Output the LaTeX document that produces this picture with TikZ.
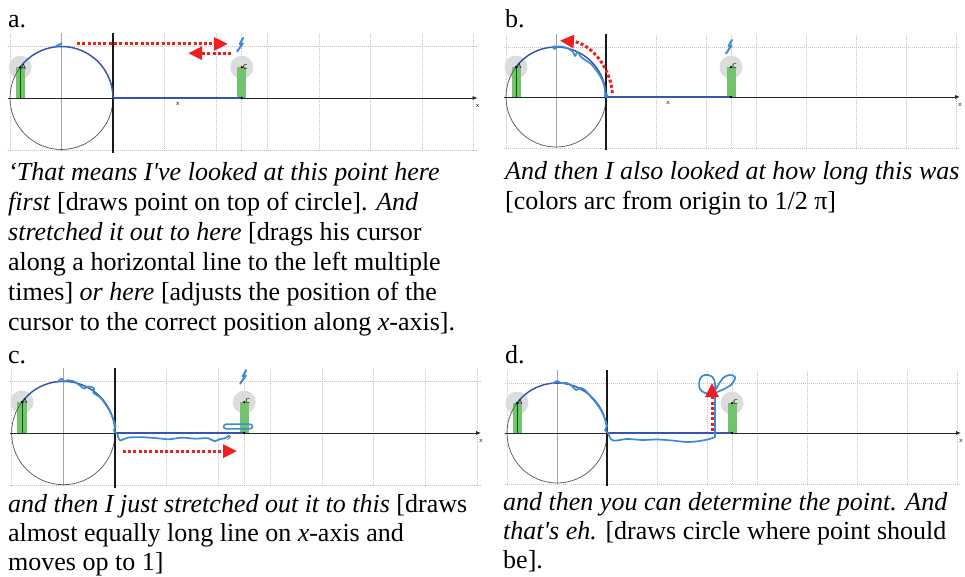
\documentclass[tikz,border=0pt]{standalone}
\usepackage{fontspec}
\setmainfont{Liberation Serif}[Ligatures=TeXOff]
\usetikzlibrary{arrows.meta}

\definecolor{handblue}{RGB}{58,140,215}
\definecolor{arcblue}{RGB}{55,85,175}
\definecolor{barfill}{RGB}{115,195,110}
\definecolor{discgrey}{RGB}{220,220,220}
\definecolor{gridgrey}{RGB}{195,195,195}
\definecolor{circgrey}{RGB}{85,85,85}
\definecolor{redarrow}{RGB}{240,30,30}

\tikzset{
  gridline/.style={gridgrey, line width=0.6pt, dash pattern=on 1pt off 1pt},
  centreline/.style={black!35, line width=0.7pt},
  axisline/.style={black!85, line width=0.8pt},
  yaxisline/.style={black!90, line width=1.3pt},
  unitcircle/.style={circgrey, line width=0.7pt},
  sinearc/.style={arcblue, line width=1.4pt},
  trace/.style={handblue, line width=1.7pt, line cap=round, line join=round},
  reddots/.style={redarrow, line width=3pt, dash pattern=on 3pt off 2.3pt, -{Triangle[length=14pt,width=13pt]}},
  caption/.style={anchor=base west, inner sep=0pt, align=left, font=\fontsize{26}{30}\selectfont},
  caption2/.style={anchor=base west, inner sep=0pt, align=left, font=\fontsize{26}{29}\selectfont},
  panellabel/.style={anchor=base west, inner sep=0pt, font=\fontsize{26}{30}\selectfont},
  tinylabel/.style={inner sep=0pt, font=\fontsize{7}{8}\selectfont\sffamily},
  panelA/.style={shift={(113,98)}, x=51.5pt, y=51.5pt},
  panelB/.style={shift={(606,97)}, x=50pt, y=50pt},
  panelC/.style={shift={(115,433)}, x=51.7pt, y=51.7pt},
  panelD/.style={shift={(607,433)}, x=50pt, y=50pt},
}

% common GeoGebra screen; #1 = name prefix
\newcommand\geoscreen[1]{%
  \foreach \gx in {-2,1,2,3,4,5,6,7} \draw[gridline] (\gx,-1.02) -- (\gx,1.26);
  \draw[gridline] (2.5,-1.02) -- (2.5,1.26);
  \draw[gridline] (-2.04,1) -- (7.08,1);
  \draw[gridline] (-2.04,-1.02) -- (7.08,-1.02);
  \draw[centreline] (-1,-1.02) -- (-1,1.26);
  \fill[discgrey] (-1.801,0.598) circle[radius=11.5pt];
  \fill[discgrey] (2.5,0.598) circle[radius=11.5pt];
  \fill[barfill] (-1.89,0) rectangle (-1.71,0.598);
  \fill[barfill] (2.41,0) rectangle (2.59,0.598);
  \draw[green!35!black, line width=0.7pt] (-1.801,0) -- (-1.801,0.598);
  \draw[unitcircle] (-1,0) circle[radius=1];
  \draw[axisline, -{Latex[length=5pt,width=4pt]}] (-2.04,0) -- (7.08,0);
  \draw[yaxisline] (0,-1.06) -- (0,1.26);
  \draw[sinearc] (-1,0) ++(143.24:1) arc[start angle=143.24, end angle=0, radius=1];
  \draw[sinearc] (0,0) -- (2.5,0);
  \fill (-1.801,0.598) circle[radius=1.3pt];
  \fill (2.5,0.598) circle[radius=1.3pt];
  \fill (2.5,0) circle[radius=1.3pt];
  \node[tinylabel, anchor=west] (#1-A) at (-1.79,0.61) {A};
  \node[tinylabel, anchor=west] (#1-C) at (2.52,0.61) {C};
  \node[tinylabel] (#1-x) at (7.08,-0.16) {x};
}

% small lightning-like cursor stroke centred at #1
\newcommand\cursormark[1]{%
  \draw[trace, line width=2pt] (#1) ++(3pt,7pt) -- ++(-3.5pt,-6pt) -- ++(3pt,0.5pt) -- ++(-5.5pt,-8pt);
}

\begin{document}
\begin{tikzpicture}[x=1pt, y=-1pt]
\useasboundingbox (0,0) rectangle (965,577);
\fill[white] (0,0) rectangle (965,577);

% ---------------- panel a ----------------
\node[panellabel] (la) at (8,28) {a.};
\begin{scope}[panelA]
  \geoscreen{pa}
  \node[tinylabel] (pa-t) at (1.26,-0.11) {x};
  \draw[trace, line width=2pt] (-1.13,0.99) -- (-1.05,1.03) -- (-1.0,1.06);
  \coordinate (a1s) at (-0.70,1.05);
  \coordinate (a1e) at (2.23,1.05);
  \coordinate (a2s) at (2.30,0.87);
  \coordinate (a2e) at (1.46,0.87);
  \draw[reddots] (a1s) -- (a1e);
  \draw[reddots] (a2s) -- (a2e);
  \coordinate (acur) at (2.47,1.03);
  \cursormark{acur}
\end{scope}
\node[caption] (ta) at (8,330) {\textit{‘That means I've looked at this point here}\\
\textit{first} {[}draws point on top of circle]. \textit{And}\\
\textit{stretched it out to here} {[}drags his cursor\\
along a horizontal line to the left multiple\\
times] \textit{or here} {[}adjusts the position of the\\
cursor to the correct position along \textit{x}-axis].};

% ---------------- panel b ----------------
\node[panellabel] (lb) at (505,28) {b.};
\begin{scope}[panelB]
  \geoscreen{pb}
  \node[tinylabel] (pb-t) at (1.24,-0.11) {x};
  \draw[trace] plot[smooth, tension=0.55] coordinates {
    (-1.03,1.0) (-0.89,1.01) (-0.76,0.97) (-0.66,0.90) (-0.62,0.82)
    (-0.57,0.90) (-0.50,0.80) (-0.42,0.74) (-0.30,0.66) (-0.17,0.50)
    (-0.08,0.35) (-0.03,0.20) (-0.02,0.08) (0,0.02)};
  \fill[handblue] (-1.03,0.99) circle[radius=2.2pt];
  \fill[handblue] (0,0.03) circle[radius=2.2pt];
  \coordinate (bc) at (-1,0);
  \draw[reddots] (bc) ++(4:1.13) arc[start angle=4, end angle=86, radius=1.13];
  \coordinate (bcur) at (2.46,1.0);
  \cursormark{bcur}
\end{scope}
\node[caption] (tb) at (505,210) {\textit{And then I also looked at how long this was}\\
{[}colors arc from origin to 1/2 π]};

% ---------------- panel c ----------------
\node[panellabel] (lc) at (8,363) {c.};
\begin{scope}[panelC]
  \geoscreen{pc}
  \draw[trace] plot[smooth, tension=0.55] coordinates {
    (-1.12,0.98) (-1.03,1.05) (-0.98,0.99) (-0.92,1.02) (-0.80,1.0)
    (-0.68,0.92) (-0.60,0.86) (-0.50,0.90) (-0.40,0.86) (-0.42,0.78)
    (-0.30,0.70) (-0.20,0.58) (-0.10,0.42) (-0.04,0.28) (0.01,0.14) (-0.02,0.05) (0.02,0.0)};
  \draw[trace] plot[smooth, tension=0.6] coordinates {
    (0.05,-0.03) (0.10,-0.14) (0.25,-0.09) (0.50,-0.08) (0.80,-0.10) (1.05,-0.12)
    (1.30,-0.09) (1.55,-0.11) (1.80,-0.10) (1.92,-0.16) (2.02,-0.12) (2.13,-0.10) (2.21,-0.05)};
  \draw[trace, line width=1.5pt, rounded corners=2.5pt] (2.10,0.08) rectangle (2.66,0.17);
  \draw[black!60, line width=0.8pt] (2.18,-0.13) -- (2.24,-0.06);
  \coordinate (c1s) at (0.15,-0.35);
  \coordinate (c1e) at (2.36,-0.35);
  \draw[reddots] (c1s) -- (c1e);
  \coordinate (ccur) at (2.48,1.08);
  \cursormark{ccur}
\end{scope}
\node[caption2] (tc) at (8,570) {\textit{and then I just stretched out it to this} {[}draws\\
almost equally long line on \textit{x}-axis and\\
moves op to 1]};

% ---------------- panel d ----------------
\node[panellabel] (ld) at (505,363) {d.};
\begin{scope}[panelD]
  \geoscreen{pd}
  \draw[trace] plot[smooth, tension=0.55] coordinates {
    (-1.08,0.99) (-1.0,1.04) (-0.92,1.0) (-0.80,1.0) (-0.70,0.94)
    (-0.62,0.86) (-0.52,0.90) (-0.42,0.84) (-0.32,0.72) (-0.20,0.58)
    (-0.10,0.42) (-0.04,0.28) (0.0,0.14) (-0.04,0.06) (0.02,0.0)};
  \coordinate (dv) at (2.16,-0.08);
  \coordinate (dt) at (2.16,0.9);
  \draw[trace] plot[smooth, tension=0.6] coordinates {
    (0.03,-0.02) (0.12,-0.15) (0.40,-0.12) (0.70,-0.14) (1.00,-0.13) (1.30,-0.15)
    (1.60,-0.18) (1.85,-0.16) (2.05,-0.12) (2.16,-0.08)};
  \draw[trace] (dv) -- (dt);
  \draw[trace] plot[smooth, tension=0.6] coordinates {
    (2.16,0.88) (2.16,1.0) (2.10,1.13) (1.95,1.16) (1.86,1.08) (1.85,0.90)
    (1.96,0.80) (2.12,0.81) (2.22,0.95) (2.32,1.10) (2.45,1.16) (2.56,1.12)
    (2.50,0.98) (2.34,0.88) (2.20,0.82)};
  \coordinate (d1s) at (2.10,0.04);
  \coordinate (d1e) at (2.10,1.0);
  \draw[reddots] (d1s) -- (d1e);
\end{scope}
\node[caption2] (td) at (503,568) {\textit{and then you can determine the point. And}\\
\textit{that's eh.} {[}draws circle where point should\\
be].};
\end{tikzpicture}
\end{document}
